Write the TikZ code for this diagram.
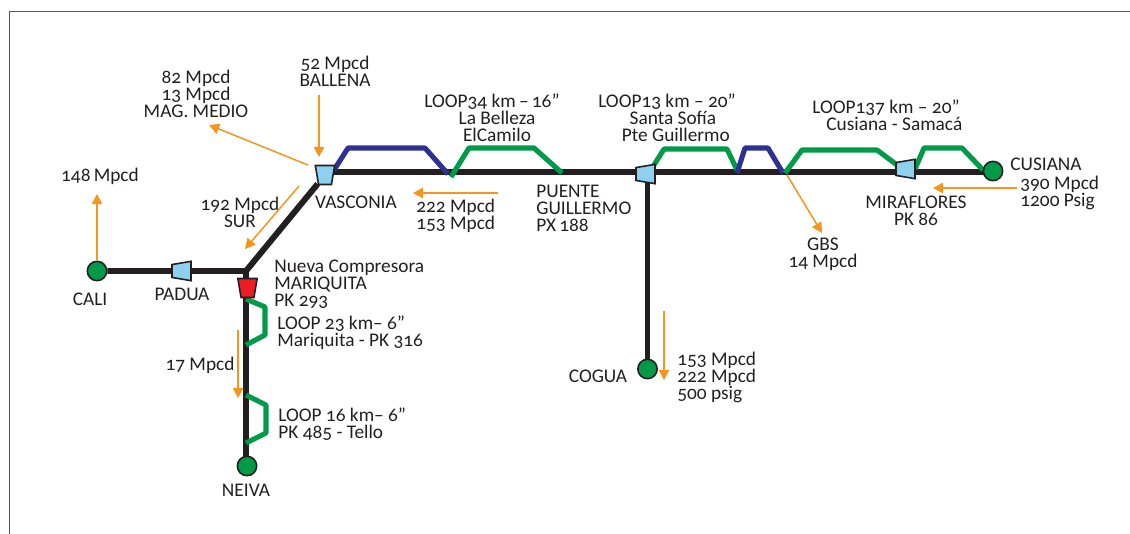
\documentclass[tikz,border=0pt]{standalone}
\usepackage{fontspec}
\setmainfont[Numbers=OldStyle]{Carlito}
\usetikzlibrary{shapes.geometric,backgrounds,arrows.meta}
\definecolor{pipeblack}{HTML}{231F20}
\definecolor{loopgreen}{HTML}{009A49}
\definecolor{loopblue}{HTML}{2E3192}
\definecolor{flowor}{HTML}{F7941D}
\definecolor{compblue}{HTML}{8DD0F0}
\definecolor{compred}{HTML}{ED1C24}

\begin{document}
\begin{tikzpicture}[x=0.02cm,y=-0.02cm,>={Triangle[length=5.8pt,width=6pt]},
  pipe/.style={draw=pipeblack,line width=3.4pt},
  gloop/.style={draw=loopgreen,line width=2.9pt,line join=round},
  bloop/.style={draw=loopblue,line width=2.9pt,line join=round},
  flow/.style={->,draw=flowor,fill=flowor,line width=0.85pt},
  station/.style={circle,draw=pipeblack,fill=loopgreen,line width=0.9pt,minimum size=11pt,inner sep=0pt},
  comp/.style={trapezium,trapezium angle=76,draw=pipeblack,line width=0.9pt,inner sep=1pt,
    minimum height=10.8pt,minimum width=11pt,trapezium stretches=true,fill=compblue},
  lbl/.style={font=\fontsize{11}{9.7}\selectfont,text=pipeblack,inner sep=0pt,align=center},
  lbll/.style={lbl,align=left,anchor=west}]

\useasboundingbox (0,0) rectangle (1130,534);

% marco
\coordinate (frameA) at (9,534);
\coordinate (frameB) at (9,11);
\coordinate (frameC) at (1130,11);
\draw[draw=black!65,line width=0.5pt] (frameA) -- (frameB) -- (frameC);

% estaciones
\node[station] (cali) at (97,271) {};
\node[station] (neiva) at (247,466) {};
\node[station] (cogua) at (647.5,369) {};
\node[station] (cusiana) at (993,171) {};

% compresores
\node[comp,shape border rotate=180] (vasconia) at (325,175) {};
\node[comp,shape border rotate=90] (padua) at (181.5,271) {};
\node[comp,shape border rotate=90] (puente) at (645.5,174) {};
\node[comp,shape border rotate=90] (miraflores) at (905.5,169) {};
\node[comp,shape border rotate=180,fill=compred] (mariquita) at (247.5,288) {};

% puntos de la red
\foreach \n/\px/\py in {junction/246/271,mainW/330/172,mainE/990/172,
    aA/334/170,aB/348/148,aC/425/148,aD/448/174,
    bA/451/177,bB/469/148,bC/534/148,bD/562/173,
    cA/654/165,cB/664/149,cC/727/149,cD/737/170,
    dA/737/173,dB/745/148,dC/768/148,dD/783/173,
    eA/785/173,eB/802/150,eC/877/150,eD/897/165,
    fA/915/169,fB/924/148,fC/962/148,fD/983/170,
    gA/246/299,gB/265/307,gC/265/335,gD/246/345,
    hA/246/395,hB/266/405,hC/266/433,hD/246/443}
  \coordinate (\n) at (\px,\py);

\begin{scope}[on background layer]
% linea principal
\draw[pipe] (cali) -- (junction) -- (vasconia);
\draw[pipe] (junction) -- (junction |- neiva);
\draw[pipe] (mainW) -- (mainE);
\draw[pipe] (cogua |- puente) -- (cogua);
% loops
\draw[bloop] (aA) -- (aB) -- (aC) -- (aD);
\draw[gloop] (bA) -- (bB) -- (bC) -- (bD);
\draw[gloop] (cA) -- (cB) -- (cC) -- (cD);
\draw[bloop] (dA) -- (dB) -- (dC) -- (dD);
\draw[gloop] (eA) -- (eB) -- (eC) -- (eD);
\draw[gloop] (fA) -- (fB) -- (fC) -- (fD);
\draw[gloop] (gA) -- (gB) -- (gC) -- (gD);
\draw[gloop] (hA) -- (hB) -- (hC) -- (hD);
\end{scope}

% flechas de flujo
\foreach \n/\xa/\ya/\xb/\yb in {ballena/319/95/319/157,magdalena/308/165/209/125,
    sur/299/186/245/249,calif/97/260/97/194,pte/498/193/413/193,
    gbs/787/175/822/233,cus/1017/188/933/188,nei/238/330/238/398,
    cog/664/311/664/380}
{
  \coordinate (\n A) at (\xa,\ya);
  \coordinate (\n B) at (\xb,\yb);
  \draw[flow] (\n A) -- (\n B);
}

% textos
\node[lbl] (tmag) at (196,94) {82 Mpcd\\[-0.2pt]13 Mpcd\\[-0.2pt]MAG. MEDIO};
\node[lbl] (tballena) at (335,71) {52 Mpcd\\BALLENA};
\node[lbl] (tcalif) at (100,176) {148\,Mpcd};
\node[lbl] (tsur) at (240,212) {192 Mpcd\\SUR};
\node[lbl] (tvasconia) at (356,202) {VASCONIA};
\node[lbl] (tcali) at (90,299) {CALI};
\node[lbl] (tpadua) at (182,294) {PADUA};
\node[lbll] (tmariquita) at (274,284.5) {Nueva Compresora\\MARIQUITA\\PK 293};
\node[lbll] (tloopa) at (277,333) {LOOP 23 km– 6”\\Mariquita - PK 316};
\node[lbl] (tnei) at (200,365) {17 Mpcd};
\node[lbll] (tloopb) at (278,424) {LOOP 16 km– 6”\\PK 485 - Tello};
\node[lbl] (tneiva) at (246,490) {NEIVA};
\node[lbll] (tpte) at (416,216) {222 Mpcd\\153 Mpcd};
\node[lbl] (tloopc) at (492,118) {LOOP34 km\,–\,16”\\\hspace*{5.7pt}La Belleza\\\hspace*{5.7pt}ElCamilo};
\node[lbll] (tpuente) at (536,208.5) {PUENTE\\GUILLERMO\\PX\,188};
\node[lbl] (tloopd) at (667,118) {LOOP13 km – 20”\\\hspace*{6.8pt}Santa Sofía\\\hspace*{10pt}Pte Guillermo};
\node[lbll] (tloope) at (812,115.5) {LOOP137 km – 20”\\\hspace*{8pt}Cusiana - Samacá};
\node[lbll] (tcusiana) at (1010,164) {CUSIANA};
\node[lbll] (tcus) at (1020,192.5) {390 Mpcd\\1200 Psig};
\node[lbl] (tmiraflores) at (916,210.5) {MIRAFLORES\\PK 86};
\node[lbl] (tgbs) at (823,254.5) {GBS\\14 Mpcd};
\node[lbl] (tcogua) at (598,376) {COGUA};
\node[lbll] (tcog) at (677,377) {153 Mpcd\\222 Mpcd\\500 psig};

\end{tikzpicture}
\end{document}
